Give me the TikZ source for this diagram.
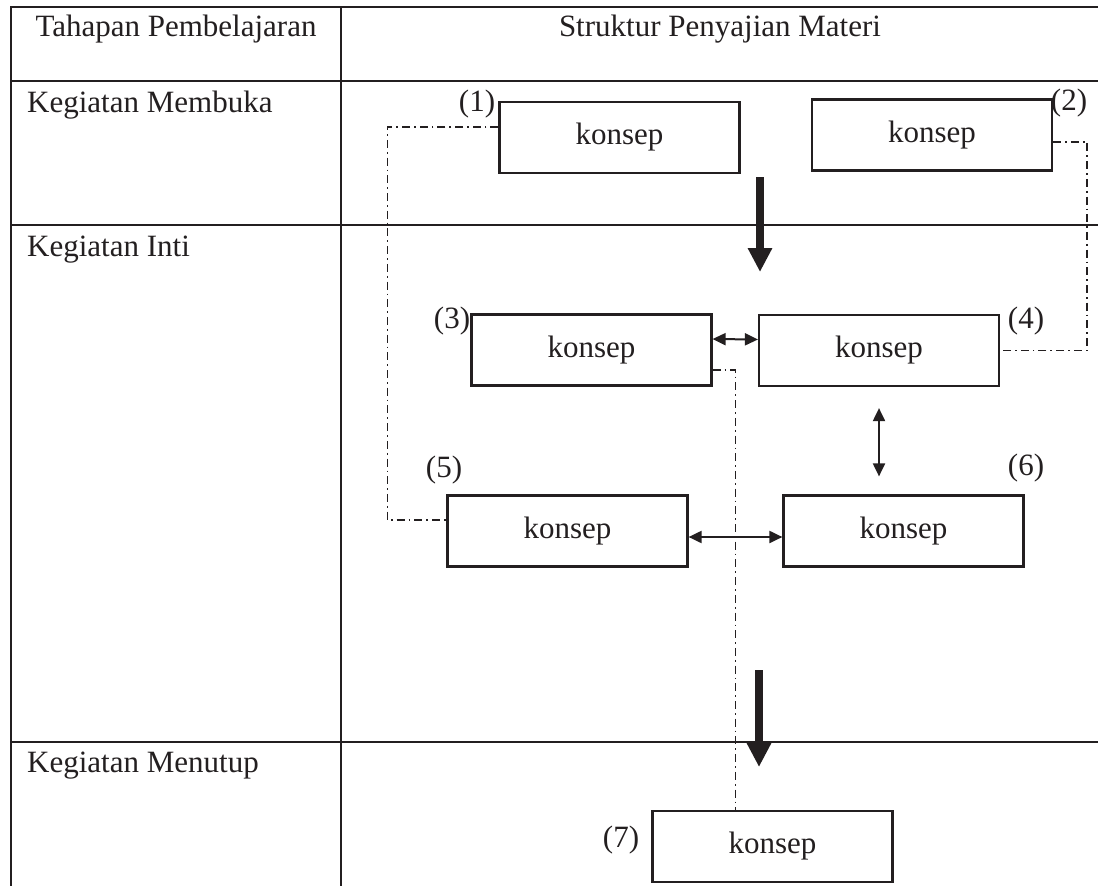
\documentclass[tikz,border=0pt]{standalone}
\usepackage{fontspec}
\setmainfont{Liberation Serif}
\usetikzlibrary{arrows.meta}
\definecolor{ink}{RGB}{35,31,32}
\begin{document}
\begin{tikzpicture}[x=1pt,y=-1pt,
  grid/.style={line width=2.6pt, draw=ink},
  box/.style={draw=ink, line width=2.2pt, minimum width=240pt, minimum height=71pt,
    inner sep=0pt, font=\fontsize{31pt}{36pt}\selectfont, text=ink},
  lbl/.style={font=\fontsize{31pt}{36pt}\selectfont, inner sep=0pt, text=ink},
  ddot/.style={draw=ink, line width=1.7pt, dash pattern=on 8pt off 4pt on 1.7pt off 4pt},
  bigarrow/.style={draw=ink, line width=7.5pt, -{Triangle[length=24pt,width=23pt]}},
  dbl/.style={draw=ink, line width=2pt,
    {Triangle[length=13pt,width=12pt]}-{Triangle[length=13pt,width=12pt]}},
]
\useasboundingbox (0,0) rectangle (1098,886);

% table
\draw[grid] (11,886) -- (11,7) -- (1098,7);
\draw[grid] (341,7) -- (341,886);
\draw[grid] (11,81) -- (1098,81);
\draw[grid] (11,225) -- (1098,225);
\draw[grid] (11,742) -- (1098,742);

% table texts
\node[lbl, anchor=base] (h1) at (176,36) {Tahapan Pembelajaran};
\node[lbl, anchor=base] (h2) at (720,36) {Struktur Penyajian Materi};
\node[lbl, anchor=base west] (r1) at (27,112) {Kegiatan Membuka};
\node[lbl, anchor=base west] (r2) at (27,256) {Kegiatan Inti};
\node[lbl, anchor=base west] (r3) at (27,772) {Kegiatan Menutup};

% boxes
\node[box] (b1) at (619.5,137.5) {konsep};
\node[box] (b2) at (932,135) {konsep};
\node[box] (b3) at (591.5,350) {konsep};
\node[box] (b4) at (879,350.5) {konsep};
\node[box] (b5) at (567.5,531) {konsep};
\node[box] (b6) at (903.5,531) {konsep};
\node[box] (b7) at (772.5,846.5) {konsep};

% numbers
\node[lbl] (n1) at (477,104) {(1)};
\node[lbl] (n2) at (1069,103) {(2)};
\node[lbl] (n3) at (452,321) {(3)};
\node[lbl] (n4) at (1026,321) {(4)};
\node[lbl] (n5) at (444,470) {(5)};
\node[lbl] (n6) at (1026,468) {(6)};
\node[lbl] (n7) at (621,840) {(7)};

% thick arrows
\coordinate (a1s) at (760,177);
\coordinate (a1e) at (760,272);
\coordinate (a2s) at (759,670);
\coordinate (a2e) at (759,767);
\draw[bigarrow] (a1s) -- (a1e);
\draw[bigarrow] (a2s) -- (a2e);

% double arrows
\draw[dbl] ([yshift=11pt]b3.east) -- ([yshift=11pt]b4.west);
\draw[dbl, shorten <=21pt, shorten >=18pt] (b4.south) -- (b4.south |- b6.north);
\draw[dbl] ([yshift=-6pt]b5.east) -- ([yshift=-6pt]b6.west);

% dash-dot connectors
\draw[ddot] ([yshift=10.5pt]b1.west) -- ++(-111,0) |- ([yshift=11pt]b5.west);
\draw[ddot] ([yshift=-7pt]b2.east) -- ++(34,0) |- (b4.east);
\draw[ddot] ([yshift=-20pt]b3.east) -- ++(23,0) coordinate (k3) -- (k3 |- b7.north);
\end{tikzpicture}
\end{document}
